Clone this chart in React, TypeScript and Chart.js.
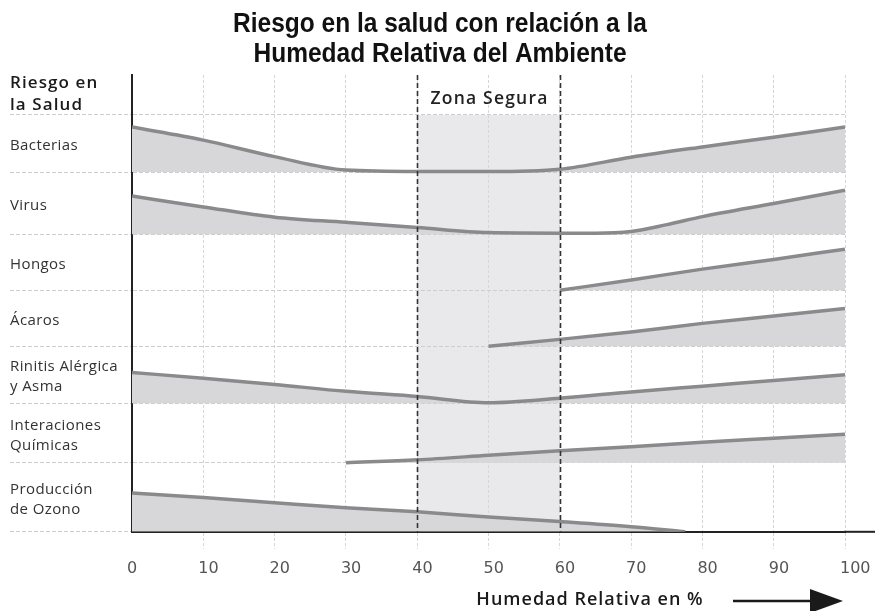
import React, { useEffect, useRef } from "react";
import { Chart, registerables } from "chart.js";

Chart.register(...registerables);

const titleLines = ["Riesgo en la salud con relación a la", "Humedad Relativa del Ambiente"];
const axisHeader = ["Riesgo en", "la Salud"];
const xAxisTitle = "Humedad Relativa en %";
const zoneLabel = "Zona Segura";
const zoneRange = [40, 60];
const xTicks = [0, 10, 20, 30, 40, 50, 60, 70, 80, 90, 100];

const rowLabels = [
  ["Bacterias"],
  ["Virus"],
  ["Hongos"],
  ["Ácaros"],
  ["Rinitis Alérgica", "y Asma"],
  ["Interaciones", "Químicas"],
  ["Producción", "de Ozono"],
];
// baseline of each row band on the risk axis (top to bottom), and the top edge of the first band
const rowBaselines = [6.3, 5.21, 4.23, 3.25, 2.25, 1.21, 0];
const rowTop = 7.3;

const bacteriasX = [0, 10, 20, 30, 40, 50, 60, 70, 80, 90, 100];
const bacteriasRisk = [0.79, 0.56, 0.27, 0.035, 0.01, 0.01, 0.05, 0.26, 0.44, 0.61, 0.79];

const virusX = [0, 10, 20, 30, 40, 50, 60, 65, 70, 75, 80, 90, 100];
const virusRisk = [0.67, 0.48, 0.3, 0.21, 0.12, 0.03, 0.02, 0.02, 0.05, 0.17, 0.31, 0.54, 0.77];

const hongosX = [60, 70, 80, 90, 100];
const hongosRisk = [0, 0.18, 0.37, 0.54, 0.72];

const acarosX = [50, 60, 70, 80, 90, 100];
const acarosRisk = [0, 0.12, 0.25, 0.4, 0.53, 0.66];

const rinitisX = [0, 10, 20, 30, 40, 50, 60, 70, 80, 90, 100];
const rinitisRisk = [0.54, 0.44, 0.33, 0.21, 0.12, 0.01, 0.09, 0.2, 0.3, 0.4, 0.5];

const quimicasX = [30, 40, 50, 60, 70, 80, 90, 100];
const quimicasRisk = [0, 0.05, 0.13, 0.21, 0.28, 0.36, 0.43, 0.5];

const ozonoX = [0, 10, 20, 30, 40, 50, 60, 70, 77.6];
const ozonoRisk = [0.68, 0.6, 0.51, 0.42, 0.35, 0.26, 0.18, 0.09, 0];

const seriesX = [bacteriasX, virusX, hongosX, acarosX, rinitisX, quimicasX, ozonoX];
const seriesRisk = [bacteriasRisk, virusRisk, hongosRisk, acarosRisk, rinitisRisk, quimicasRisk, ozonoRisk];

const LABEL_FONT = '"Open Sans", "Noto Sans", sans-serif';
const TITLE_FONT = '"Liberation Sans", Arial, sans-serif';

const decorPlugin = {
  id: "decor",
  beforeDraw(chart: any) {
    const { ctx, scales } = chart;
    const x = scales.x;
    const y = scales.y;
    const x0 = x.getPixelForValue(zoneRange[0]);
    const x1 = x.getPixelForValue(zoneRange[1]);
    const yt = y.getPixelForValue(rowTop);
    const yb = y.getPixelForValue(0);
    ctx.save();
    ctx.fillStyle = "#e9e9ec";
    ctx.fillRect(x0, yt, x1 - x0, yb - yt);
    ctx.restore();
  },
  afterDatasetsDraw(chart: any) {
    const { ctx, scales, chartArea } = chart;
    const x = scales.x;
    const y = scales.y;
    ctx.save();

    // main title (two lines)
    ctx.fillStyle = "#111";
    ctx.font = `bold 24.5px ${TITLE_FONT}`;
    ctx.textAlign = "center";
    ctx.textBaseline = "alphabetic";
    [32, 62].forEach((base, i) => {
      ctx.save();
      ctx.translate(440, base);
      ctx.scale(1, 1.1);
      ctx.fillText(titleLines[i], 0, 0);
      ctx.restore();
    });

    // zone dashed borders
    ctx.strokeStyle = "#333";
    ctx.lineWidth = 1.6;
    ctx.setLineDash([5, 3]);
    for (const v of zoneRange) {
      const px = Math.round(x.getPixelForValue(v)) + 0.5;
      ctx.beginPath();
      ctx.moveTo(px, chartArea.top);
      ctx.lineTo(px, chartArea.bottom);
      ctx.stroke();
    }
    ctx.setLineDash([]);

    // zone label
    ctx.fillStyle = "#222";
    ctx.font = `600 17.5px ${LABEL_FONT}`;
    (ctx as any).letterSpacing = "1.2px";
    ctx.textAlign = "center";
    const zx = (x.getPixelForValue(zoneRange[0]) + x.getPixelForValue(zoneRange[1])) / 2;
    ctx.fillText(zoneLabel, zx + 1, 104);

    // header
    const left = 10;
    ctx.textAlign = "left";
    ctx.font = `600 17px ${LABEL_FONT}`;
    (ctx as any).letterSpacing = "1.1px";
    ctx.fillStyle = "#1a1a1a";
    ctx.fillText(axisHeader[0], left, 88);
    ctx.fillText(axisHeader[1], left, 110);

    // row labels
    ctx.font = `400 15px ${LABEL_FONT}`;
    (ctx as any).letterSpacing = "0.4px";
    ctx.fillStyle = "#333";
    rowLabels.forEach((lines, i) => {
      const top = i === 0 ? rowTop : rowBaselines[i - 1];
      const center = y.getPixelForValue((top + rowBaselines[i]) / 2);
      lines.forEach((t, j) => {
        ctx.fillText(t, left, center + 6.5 + (j - (lines.length - 1) / 2) * 20);
      });
    });

    // x-axis extension beyond 100
    const yb = y.getPixelForValue(0);
    ctx.strokeStyle = "#222";
    ctx.lineWidth = 2;
    ctx.beginPath();
    ctx.moveTo(x.right - 1, yb);
    ctx.lineTo(chart.width - 3, yb);
    ctx.stroke();

    // x-axis title and arrow
    ctx.font = `600 18px ${LABEL_FONT}`;
    (ctx as any).letterSpacing = "1px";
    ctx.fillStyle = "#1a1a1a";
    ctx.textAlign = "center";
    ctx.fillText(xAxisTitle, 590, 605);
    (ctx as any).letterSpacing = "0px";
    ctx.strokeStyle = "#1a1a1a";
    ctx.lineWidth = 2.5;
    ctx.beginPath();
    ctx.moveTo(733, 601);
    ctx.lineTo(815, 601);
    ctx.stroke();
    ctx.beginPath();
    ctx.moveTo(810, 589);
    ctx.lineTo(843, 601);
    ctx.lineTo(810, 613);
    ctx.closePath();
    ctx.fill();
    ctx.restore();
  },
};

export default function App() {
  const ref = useRef<HTMLCanvasElement>(null);
  useEffect(() => {
    const datasets = seriesX.map((xs, i) => ({
      label: rowLabels[i].join(" "),
      data: xs.map((xv, k) => ({ x: xv, y: rowBaselines[i] + seriesRisk[i][k] })),
      borderColor: "#8a8a8d",
      borderWidth: 3.5,
      backgroundColor: "#d7d7d9",
      fill: { value: rowBaselines[i] },
      pointRadius: 0,
      cubicInterpolationMode: "monotone" as const,
      tension: 0.4,
    }));
    const chart = new Chart(ref.current!, {
      type: "line",
      data: { datasets },
      plugins: [decorPlugin],
      options: {
        responsive: false,
        animation: false,
        layout: { padding: { left: 10, right: 33, top: 75, bottom: 23 } },
        plugins: {
          legend: { display: false },
          tooltip: { enabled: false },
          title: { display: false },
        },
        scales: {
          x: {
            type: "linear",
            min: 0,
            max: 100,
            afterBuildTicks: (axis: any) => {
              axis.ticks = xTicks.map((v) => ({ value: v }));
            },
            afterFit: (axis: any) => {
              axis.paddingLeft = 0;
              axis.paddingRight = 0;
            },
            ticks: {
              color: "#555",
              font: { family: '"DejaVu Sans", sans-serif', size: 16 },
              padding: 10,
              maxRotation: 0,
              align: "start",
              labelOffset: -5,
            },
            grid: {
              color: "#d6d6d6",
              lineWidth: 1,
              tickLength: 17,
              tickColor: (c: any) => (c.tick && c.tick.value === 0 ? "rgba(0,0,0,0)" : "#d6d6d6"),
              tickBorderDash: [3, 2],
            },
            border: { display: true, color: "#222", width: 2, dash: [3, 2] },
          },
          y: {
            type: "linear",
            min: 0,
            max: 8,
            afterBuildTicks: (axis: any) => {
              axis.ticks = [...rowBaselines, rowTop].map((v) => ({ value: v }));
            },
            ticks: { display: false },
            grid: {
              color: "#cdcdcd",
              lineWidth: 1,
              tickLength: 122,
              tickColor: "#cdcdcd",
              tickBorderDash: [4, 2],
            },
            border: { display: true, color: "#222", width: 2, dash: [4, 2] },
          },
        },
      },
    });
    return () => chart.destroy();
  }, []);
  return (
    <div style={{ position: "absolute", left: 0, top: 0, width: 878, height: 611, background: "#fff" }}>
      <canvas ref={ref} width={878} height={611} style={{ display: "block", width: 878, height: 611 }} />
    </div>
  );
}
